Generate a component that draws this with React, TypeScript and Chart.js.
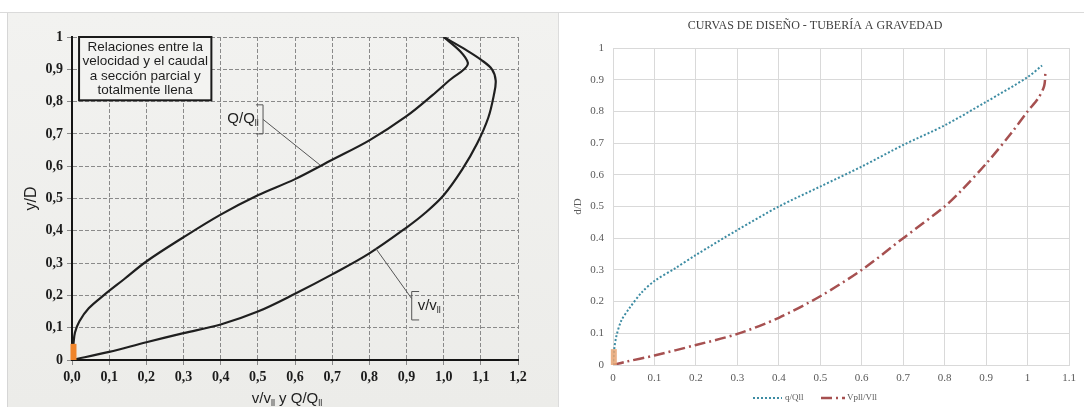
import React, { useEffect, useRef } from 'react';
import { Chart, registerables } from 'chart.js';
Chart.register(...registerables);

// ---------- Left chart (scanned book figure) ----------
const leftXTicks = ['0,0', '0,1', '0,2', '0,3', '0,4', '0,5', '0,6', '0,7', '0,8', '0,9', '1,0', '1,1', '1,2'];
const leftYTicks = ['0', '0,1', '0,2', '0,3', '0,4', '0,5', '0,6', '0,7', '0,8', '0,9', '1'];
// upper-left curve (labelled Q/Qll)
const leftQX = [0, 0.004, 0.008, 0.02, 0.045, 0.085, 0.14, 0.2, 0.3, 0.4, 0.5, 0.6, 0.7, 0.8, 0.9, 0.97, 1.02, 1.055, 1.065, 1.045, 1.0];
const leftQY = [0, 0.05, 0.085, 0.12, 0.16, 0.2, 0.25, 0.305, 0.38, 0.45, 0.51, 0.56, 0.62, 0.68, 0.755, 0.82, 0.87, 0.9, 0.92, 0.955, 1.0];
// lower-right curve (labelled v/vll)
const leftVX = [0, 0.1, 0.2, 0.3, 0.4, 0.5, 0.6, 0.7, 0.8, 0.9, 0.95, 1.0, 1.05, 1.09, 1.12, 1.135, 1.14, 1.13, 1.1, 1.06, 1.0];
const leftVY = [0, 0.025, 0.055, 0.083, 0.11, 0.15, 0.205, 0.265, 0.33, 0.41, 0.455, 0.51, 0.59, 0.67, 0.75, 0.82, 0.865, 0.9, 0.93, 0.96, 1.0];
const leftMarkX = [0.004, 0.004];
const leftMarkY = [0, 0.05];
const leftBoxLines = ['Relaciones entre la', 'velocidad y el caudal', 'a sección parcial y', 'totalmente llena'];
const leftYTitle = 'y/D';

// ---------- Right chart (spreadsheet) ----------
const rightTitle = 'CURVAS DE DISEÑO - TUBERÍA A GRAVEDAD';
const rightYTitle = 'd/D';
const rightXTicks = ['0', '0.1', '0.2', '0.3', '0.4', '0.5', '0.6', '0.7', '0.8', '0.9', '1', '1.1'];
const rightYTicks = ['0', '0.1', '0.2', '0.3', '0.4', '0.5', '0.6', '0.7', '0.8', '0.9', '1'];
const rightSeriesNames = ['q/Qll', 'Vpll/Vll'];
const rightQX = [0, 0.003, 0.008, 0.02, 0.04, 0.07, 0.1, 0.15, 0.2, 0.3, 0.4, 0.5, 0.6, 0.7, 0.8, 0.9, 1.0, 1.035];
const rightQY = [0, 0.05, 0.09, 0.14, 0.18, 0.23, 0.265, 0.305, 0.347, 0.426, 0.5, 0.563, 0.626, 0.694, 0.756, 0.83, 0.908, 0.945];
const rightVX = [0, 0.03, 0.1, 0.2, 0.3, 0.4, 0.5, 0.6, 0.7, 0.8, 0.84, 0.9, 0.96, 1.0, 1.025, 1.04, 1.043];
const rightVY = [0, 0.01, 0.03, 0.063, 0.098, 0.149, 0.217, 0.3, 0.4, 0.5, 0.55, 0.635, 0.73, 0.8, 0.84, 0.88, 0.92];
const rightMarkX = [0.002, 0.002];
const rightMarkY = [0, 0.05];

const zip = (xs: number[], ys: number[]) => xs.map((x, i) => ({ x, y: ys[i] }));

type Part = { t: string; sub?: boolean };
function drawRich(ctx: CanvasRenderingContext2D, parts: Part[], x: number, y: number, align: 'left' | 'center' | 'right', size: number, family: string) {
  const fontFor = (p: Part) => `${p.sub ? Math.round(size * 0.62) : size}px ${family}`;
  let total = 0;
  const widths = parts.map((p) => {
    ctx.font = fontFor(p);
    const w = ctx.measureText(p.t).width;
    total += w;
    return w;
  });
  let cx = align === 'center' ? x - total / 2 : align === 'right' ? x - total : x;
  ctx.textAlign = 'left';
  ctx.textBaseline = 'alphabetic';
  parts.forEach((p, i) => {
    ctx.font = fontFor(p);
    ctx.fillText(p.t, cx, y + (p.sub ? size * 0.22 : 0));
    cx += widths[i];
  });
}

const SANS = '"Liberation Sans", Arial, sans-serif';
const SERIF = '"Liberation Serif", "Times New Roman", serif';

const leftDecor = {
  id: 'leftDecor',
  afterDraw(chart: any) {
    const ctx: CanvasRenderingContext2D = chart.ctx;
    const sx = chart.scales.x;
    const sy = chart.scales.y;
    const X = (v: number) => sx.getPixelForValue(v);
    const Y = (v: number) => sy.getPixelForValue(v);
    ctx.save();
    // annotation box
    const bx0 = X(0.019), bx1 = X(0.375), by0 = Y(1.0), by1 = Y(0.804);
    ctx.fillStyle = '#f3f3f1';
    ctx.fillRect(bx0, by0, bx1 - bx0, by1 - by0);
    ctx.strokeStyle = '#1a1a1a';
    ctx.lineWidth = 2;
    ctx.strokeRect(bx0, by0, bx1 - bx0, by1 - by0);
    ctx.fillStyle = '#1e1e1e';
    ctx.font = `13.5px ${SANS}`;
    ctx.textAlign = 'center';
    ctx.textBaseline = 'middle';
    const lh = (by1 - by0) / (leftBoxLines.length + 0.4);
    leftBoxLines.forEach((l, i) => ctx.fillText(l, (bx0 + bx1) / 2, by0 + lh * (i + 0.7)));

    // Q/Qll label with bracket and leader
    ctx.fillStyle = '#1e1e1e';
    drawRich(ctx, [{ t: 'Q/Q' }, { t: 'll', sub: true }], X(0.418), Y(0.735), 'left', 15, SANS);
    ctx.strokeStyle = '#555';
    ctx.lineWidth = 1;
    ctx.beginPath();
    ctx.moveTo(X(0.495), Y(0.79));
    ctx.lineTo(X(0.514), Y(0.79));
    ctx.lineTo(X(0.514), Y(0.70));
    ctx.lineTo(X(0.495), Y(0.70));
    ctx.moveTo(X(0.514), Y(0.745));
    ctx.lineTo(X(0.667), Y(0.604));
    ctx.stroke();

    // v/vll label with bracket and leader
    drawRich(ctx, [{ t: 'v/v' }, { t: 'll', sub: true }], X(0.93), Y(0.155), 'left', 15, SANS);
    ctx.beginPath();
    ctx.moveTo(X(0.934), Y(0.212));
    ctx.lineTo(X(0.914), Y(0.212));
    ctx.lineTo(X(0.914), Y(0.124));
    ctx.lineTo(X(0.934), Y(0.124));
    ctx.moveTo(X(0.914), Y(0.19));
    ctx.lineTo(X(0.817), Y(0.346));
    ctx.stroke();

    // axis titles
    ctx.fillStyle = '#1e1e1e';
    ctx.save();
    ctx.translate(32, Y(0.5));
    ctx.rotate(-Math.PI / 2);
    ctx.font = `16px ${SANS}`;
    ctx.textAlign = 'center';
    ctx.textBaseline = 'middle';
    ctx.fillText(leftYTitle, 0, 0);
    ctx.restore();
    drawRich(ctx, [{ t: 'v/v' }, { t: 'll', sub: true }, { t: ' y Q/Q' }, { t: 'll', sub: true }], (sx.left + sx.right) / 2 - 8, 391, 'center', 15, SANS);
    ctx.restore();
  },
};

const rightDecor = {
  id: 'rightDecor',
  afterDraw(chart: any) {
    const ctx: CanvasRenderingContext2D = chart.ctx;
    const sy = chart.scales.y;
    const cw = chart.width;
    ctx.save();
    ctx.fillStyle = '#404040';
    ctx.font = `12px ${SERIF}`;
    ctx.textAlign = 'center';
    ctx.textBaseline = 'middle';
    ctx.fillText(rightTitle, cw / 2 - 7, 14);

    ctx.save();
    ctx.translate(18, sy.getPixelForValue(0.5));
    ctx.rotate(-Math.PI / 2);
    ctx.fillStyle = '#595959';
    ctx.font = `11px ${SERIF}`;
    ctx.fillText(rightYTitle, 0, 0);
    ctx.restore();

    // legend
    const ly = 386;
    const lx = cw / 2 - 7 - 62;
    ctx.lineWidth = 2;
    ctx.lineCap = 'butt';
    ctx.strokeStyle = '#3d8ca3';
    ctx.setLineDash([2, 2]);
    ctx.beginPath();
    ctx.moveTo(lx, ly);
    ctx.lineTo(lx + 29, ly);
    ctx.stroke();
    ctx.fillStyle = '#595959';
    ctx.font = `9px ${SERIF}`;
    ctx.textAlign = 'left';
    ctx.fillText(rightSeriesNames[0], lx + 32, ly);
    const lx2 = lx + 68;
    ctx.strokeStyle = '#a65050';
    ctx.lineWidth = 2.5;
    ctx.setLineDash([11, 4, 2, 4]);
    ctx.beginPath();
    ctx.moveTo(lx2, ly);
    ctx.lineTo(lx2 + 24, ly);
    ctx.stroke();
    ctx.setLineDash([]);
    ctx.fillText(rightSeriesNames[1], lx2 + 26, ly);
    ctx.restore();
  },
};

function LeftChart() {
  const ref = useRef<HTMLCanvasElement>(null);
  useEffect(() => {
    const chart = new Chart(ref.current as HTMLCanvasElement, {
      type: 'scatter',
      data: {
        datasets: [
          { data: zip(leftQX, leftQY), showLine: true, borderColor: '#1f1f1f', borderWidth: 2.2, pointRadius: 0, tension: 0.35, order: 2 },
          { data: zip(leftVX, leftVY), showLine: true, borderColor: '#1f1f1f', borderWidth: 2.2, pointRadius: 0, tension: 0.35, order: 2 },
          { data: zip(leftMarkX, leftMarkY), showLine: true, borderColor: '#f0842a', borderWidth: 6, pointRadius: 0, borderCapStyle: 'butt', clip: false, order: 0 },
        ],
      } as any,
      options: {
        animation: false,
        responsive: false,
        layout: { padding: { left: 0, right: 40, top: 25, bottom: 0 } },
        plugins: { legend: { display: false }, tooltip: { enabled: false } },
        scales: {
          x: {
            type: 'linear',
            min: 0,
            max: 1.2,
            afterFit: (s: any) => { s.height = 47; },
            ticks: {
              stepSize: 0.1,
              autoSkip: false,
              maxRotation: 0,
              padding: 4,
              color: '#1c1c1c',
              font: { family: SERIF, weight: 'bold', size: 14 },
              callback: (_v: any, i: number) => leftXTicks[i],
            },
            grid: { color: '#8a8a8a', lineWidth: 1, tickLength: 5 },
            border: { color: '#151515', width: 2, dash: [4, 2] },
          },
          y: {
            type: 'linear',
            min: 0,
            max: 1,
            afterFit: (s: any) => { s.width = 72; },
            ticks: {
              stepSize: 0.1,
              autoSkip: false,
              padding: 4,
              color: '#1c1c1c',
              font: { family: SERIF, weight: 'bold', size: 14 },
              callback: (_v: any, i: number) => leftYTicks[i],
            },
            grid: { color: '#8a8a8a', lineWidth: 1, tickLength: 5 },
            border: { color: '#151515', width: 2, dash: [4, 2] },
          },
        },
      } as any,
      plugins: [leftDecor],
    });
    return () => chart.destroy();
  }, []);
  return <canvas ref={ref} width={558} height={395} style={{ position: 'absolute', left: 0, top: 12, width: 558, height: 395 }} />;
}

function RightChart() {
  const ref = useRef<HTMLCanvasElement>(null);
  useEffect(() => {
    const chart = new Chart(ref.current as HTMLCanvasElement, {
      type: 'scatter',
      data: {
        datasets: [
          { data: zip(rightQX, rightQY), showLine: true, borderColor: '#3d8ca3', borderWidth: 2, borderDash: [2, 2], pointRadius: 0, tension: 0.3, borderCapStyle: 'butt', order: 2 },
          { data: zip(rightVX, rightVY), showLine: true, borderColor: '#a65050', borderWidth: 2.5, borderDash: [11, 4, 2, 4], pointRadius: 0, tension: 0.3, borderCapStyle: 'butt', order: 2 },
          { data: zip(rightMarkX, rightMarkY), showLine: true, borderColor: 'rgba(232,165,115,0.85)', borderWidth: 6, pointRadius: 0, borderCapStyle: 'butt', clip: false, order: 0 },
        ],
      } as any,
      options: {
        animation: false,
        responsive: false,
        layout: { padding: { left: 0, right: 15, top: 36, bottom: 0 } },
        plugins: { legend: { display: false }, tooltip: { enabled: false } },
        scales: {
          x: {
            type: 'linear',
            min: 0,
            max: 1.1,
            afterFit: (s: any) => { s.height = 42; },
            ticks: {
              stepSize: 0.1,
              autoSkip: false,
              maxRotation: 0,
              padding: 7,
              color: '#595959',
              font: { family: SERIF, size: 11 },
              callback: (_v: any, i: number) => rightXTicks[i],
            },
            grid: { color: '#d9d9d9', lineWidth: 1, drawTicks: false },
            border: { color: '#d9d9d9', width: 1 },
          },
          y: {
            type: 'linear',
            min: 0,
            max: 1,
            afterFit: (s: any) => { s.width = 53; },
            ticks: {
              stepSize: 0.1,
              autoSkip: false,
              padding: 9,
              color: '#595959',
              font: { family: SERIF, size: 11 },
              callback: (_v: any, i: number) => rightYTicks[i],
            },
            grid: { color: '#d9d9d9', lineWidth: 1, drawTicks: false },
            border: { color: '#d9d9d9', width: 1 },
          },
        },
      } as any,
      plugins: [rightDecor],
    });
    return () => chart.destroy();
  }, []);
  return <canvas ref={ref} width={524} height={395} style={{ position: 'absolute', left: 560, top: 12, width: 524, height: 395 }} />;
}

export default function App() {
  return (
    <div style={{ position: 'fixed', left: 0, top: 0, width: 1084, height: 407, background: '#ffffff', overflow: 'hidden' }}>
      <div style={{ position: 'absolute', left: 0, top: 12, width: 1084, height: 1, background: '#dadada' }} />
      <div style={{ position: 'absolute', left: 7, top: 13, width: 551, height: 394, background: 'linear-gradient(180deg, #f2f2f0 0%, #ecece9 100%)', borderLeft: '1px solid #d6d6d6' }} />
      <div style={{ position: 'absolute', left: 558, top: 13, width: 1, height: 394, background: '#dcdcdc' }} />
      <LeftChart />
      <RightChart />
    </div>
  );
}
